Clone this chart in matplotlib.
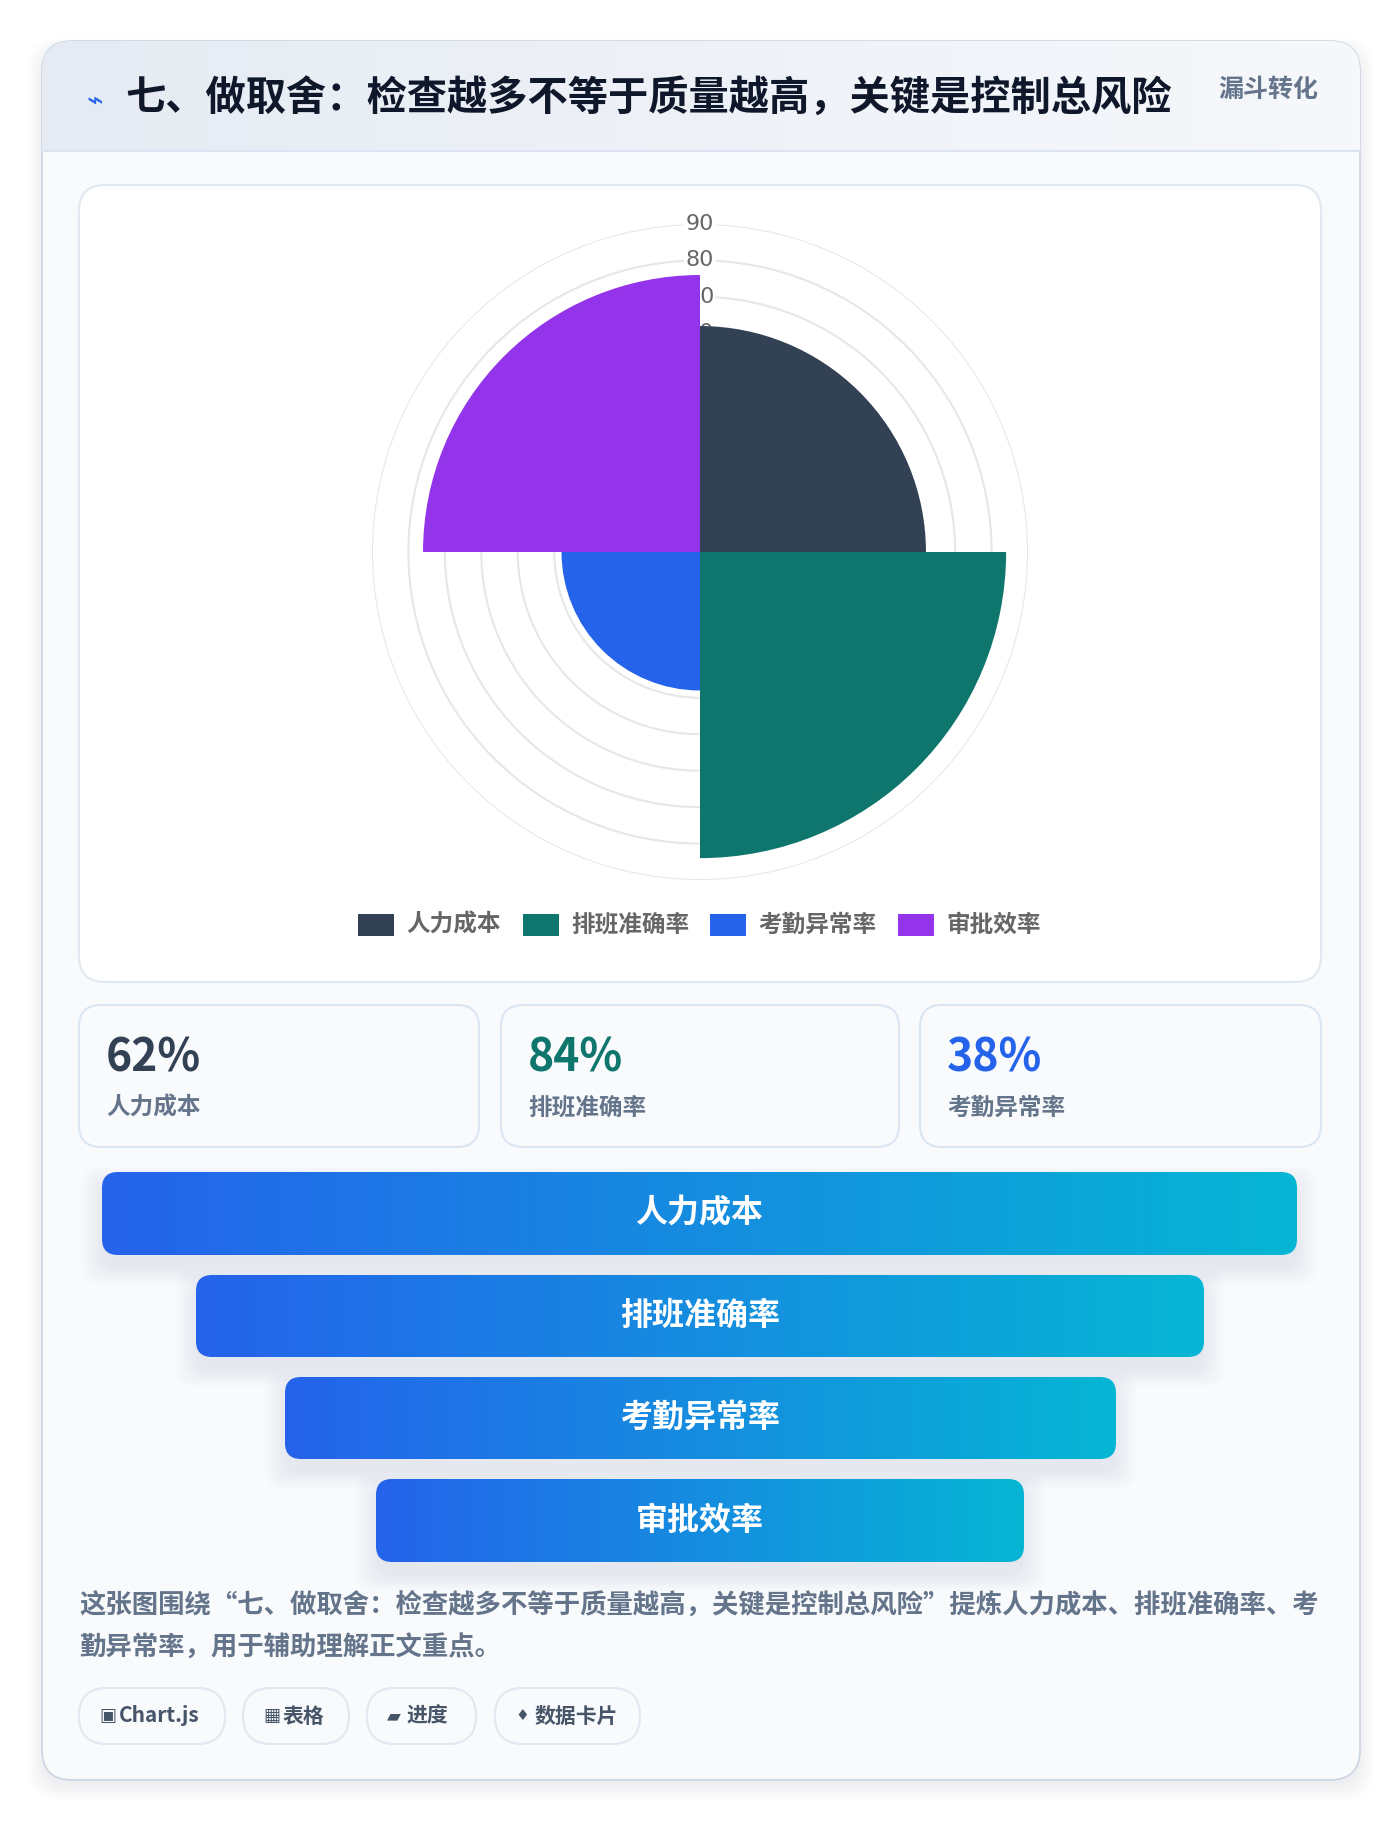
import numpy as np
import matplotlib
matplotlib.use("Agg")
import matplotlib.pyplot as plt
from matplotlib.patches import FancyBboxPatch, Rectangle
from matplotlib.colors import LinearSegmentedColormap

plt.rcParams['font.family'] = ['Noto Sans CJK SC', 'DejaVu Sans']

# === Data ===
title = "七、做取舍：检查越多不等于质量越高，关键是控制总风险"
tag_right = "漏斗转化"
categories = ["人力成本", "排班准确率", "考勤异常率", "审批效率"]
values = [62, 84, 38, 76]
colors = ["#334155", "#0f766e", "#2563eb", "#9333ea"]
ticks = [10, 20, 30, 40, 50, 60, 70, 80, 90]
stat_values = ["62%", "84%", "38%"]
stat_labels = ["人力成本", "排班准确率", "考勤异常率"]
stat_colors = ["#334155", "#0f766e", "#2563eb"]
funnel_labels = categories
description = ["这张图围绕“七、做取舍：检查越多不等于质量越高，关键是控制总风险”提炼人力成本、排班准确率、考",
               "勤异常率，用于辅助理解正文重点。"]
tag_icons = ["▣", "▦", "▰", "♦"]
tag_texts = ["Chart.js", "表格", "进度", "数据卡片"]

W, H = 1400, 1822
fig = plt.figure(figsize=(W / 100, H / 100), dpi=100)
fig.patch.set_facecolor("#ffffff")
ax = fig.add_axes([0, 0, 1, 1])
ax.set_xlim(0, W)
ax.set_ylim(H, 0)
ax.axis("off")


def rbox(x0, y0, x1, y1, r, fc, ec="none", lw=1.0, z=1, alpha=1.0):
    p = FancyBboxPatch((x0 + r, y0 + r), x1 - x0 - 2 * r, y1 - y0 - 2 * r,
                       boxstyle=f"round,pad={r}", fc=fc, ec=ec, lw=lw, zorder=z, alpha=alpha)
    ax.add_patch(p)
    return p


# card with soft shadow
for i in range(8):
    rbox(42 - i * 2, 46 - i * 2 + 6, 1360 + i * 2, 1780 + i * 2 + 6, 30, "#94a3b8", z=0.1, alpha=0.015)
card = rbox(42, 41, 1360, 1780, 30, "#f8fafc", ec="#cbd5e1", lw=1.2, z=0.5)

# header band
grad = np.linspace(0, 1, 256).reshape(1, -1)
hdr = LinearSegmentedColormap.from_list("h", ["#e6ebf3", "#f6f8fb"])
im = ax.imshow(grad, cmap=hdr, extent=(42, 1360, 151, 41), aspect="auto", zorder=0.6)
im.set_clip_path(card)
ax.plot([42, 1360], [151, 151], color="#dbe4f0", lw=1.5, zorder=0.7)
ax.text(95, 101, "⌁", color="#2563eb", fontsize=20, ha="center", va="center", family=["DejaVu Sans"])
ax.text(125, 99, title, color="#0f172a", fontsize=29, fontweight="black", ha="left", va="center")
ax.text(1318, 90, tag_right, color="#64748b", fontsize=18, fontweight="bold", ha="right", va="center")

# chart panel
rbox(79, 185, 1321, 982, 26, "#ffffff", ec="#e2e8f0", lw=1.5, z=0.8)

# polar area chart
cx, cy, R = 700, 552, 328
pax = fig.add_axes([(cx - R) / W, (H - cy - R) / H, 2 * R / W, 2 * R / H], projection="polar")
pax.set_theta_zero_location("N")
pax.set_theta_direction(-1)
pax.patch.set_alpha(0)
theta = np.deg2rad([45, 135, 225, 315])
pax.bar(theta, values, width=np.pi / 2, color=colors, zorder=3, linewidth=0)
pax.set_ylim(0, 90)
pax.set_yticks(ticks)
pax.set_yticklabels([])
pax.set_xticks([])
pax.grid(True, color="#e5e7eb", lw=1.5)
pax.spines["polar"].set_visible(False)
for t in ticks:
    pax.text(0, t, str(t), color="#666666", fontsize=16, ha="center", va="center", zorder=2,
             family=["DejaVu Sans"], bbox=dict(fc="white", ec="none", pad=1))

# legend
leg_box_x = [358, 523, 710, 898]
for bx, lab, c in zip(leg_box_x, categories, colors):
    ax.add_patch(Rectangle((bx, 914), 36, 22, fc=c, zorder=2))
    ax.text(bx + 48, 925, lab, color="#666666", fontsize=17, fontweight="bold", ha="left", va="center")

# stat cards
stat_x = [(79, 479), (501, 899), (920, 1321)]
for (x0, x1), v, lab, c in zip(stat_x, stat_values, stat_labels, stat_colors):
    rbox(x0, 1005, x1, 1147, 22, "#f8fafc", ec="#dbe6f3", lw=1.5, z=0.8)
    ax.text(x0 + 27, 1058, v, color=c, fontsize=32, fontweight="black", ha="left", va="center")
    ax.text(x0 + 27, 1108, lab, color="#64748b", fontsize=17, fontweight="bold", ha="left", va="center")

# funnel
fcm = LinearSegmentedColormap.from_list("f", ["#2563eb", "#06b6d4"])
funnel_x = [(102, 1297), (196, 1204), (285, 1116), (376, 1024)]
funnel_y = [(1172, 1255), (1275, 1357), (1377, 1459), (1479, 1562)]
for (x0, x1), (y0, y1), lab in zip(funnel_x, funnel_y, funnel_labels):
    for i in range(6):
        rbox(x0 - i * 4, y0 + 10 - i * 3, x1 + i * 4, y1 + 14 + i * 3, 18, "#1e3a8a", z=0.85, alpha=0.012)
    bp = rbox(x0, y0, x1, y1, 16, "none", z=1)
    g = ax.imshow(grad, cmap=fcm, extent=(x0, x1, y1, y0), aspect="auto", zorder=1.1)
    g.set_clip_path(bp)
    ax.text((x0 + x1) / 2, (y0 + y1) / 2, lab, color="white", fontsize=23, fontweight="black",
            ha="center", va="center", zorder=2)

# description (narrow quotes as in the reference)
for i, line in enumerate(description):
    ax.text(79, 1605 + i * 43, line, color="#64748b", fontsize=19, fontweight="bold", ha="left", va="center",
            family=["Noto Sans CJK SC", "DejaVu Sans"])

# tags
tag_x = [(79, 225), (243, 349), (367, 476), (495, 640)]
for (x0, x1), ic, t in zip(tag_x, tag_icons, tag_texts):
    rbox(x0, 1688, x1, 1744, 28, "#f8fafc", ec="#e2e8f0", lw=1.5, z=0.8)
    ax.text(x0 + 20, 1716, ic, color="#475569", fontsize=11 if ic == "♦" else 13, ha="left", va="center",
            family=["DejaVu Sans"])
    ax.text(x0 + 40, 1716, t, color="#475569", fontsize=15, fontweight="bold", ha="left", va="center")

fig.savefig("out.png", dpi=100)
